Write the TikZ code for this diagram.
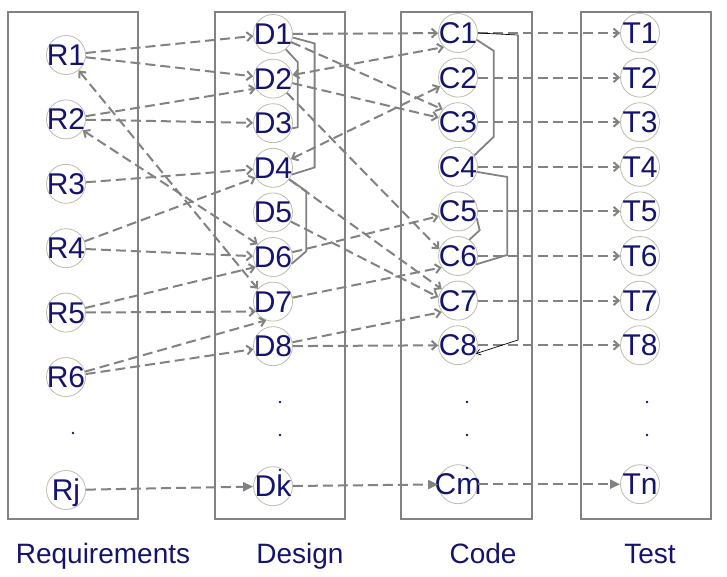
\documentclass[tikz,border=0pt]{standalone}
\usepackage{fontspec}
\setmainfont{Liberation Sans}
\usetikzlibrary{positioning, arrows.meta}
\definecolor{ink}{RGB}{20,20,110}
\definecolor{wire}{RGB}{130,130,130}
\definecolor{ring}{RGB}{190,188,172}
\tikzset{x=1pt, y=-1pt, % one unit is one pixel, counted from the top
>={Straight Barb[length=5pt,width=9pt]}, % open arrow heads
node distance=44.6pt, % spacing of the rows in design, code and test
item/.style={circle, draw=ring, line width=.8pt, fill=white, minimum size=39pt, inner sep=-7pt,
  text height=21pt, text depth=0pt, text=ink, font=\fontsize{30}{31}\selectfont},
rrow/.style={item, node distance=64.4pt}, % requirements are spread wider
trow/.style={item, node distance=182pt},
link/.style={->, wire, line width=2pt, dash pattern=on 10pt off 5pt},
both/.style={link, <->},
filledlink/.style={link, -{Triangle[length=10pt,width=9pt]}},
tie/.style={draw=wire, line width=1.8pt},
pointer/.style={draw=black, line width=.7pt, -{Straight Barb[length=4pt,width=6pt]}},
lane/.style={draw=wire, line width=2.4pt},
caption/.style={anchor=base, text=ink, font=\fontsize{28}{29}\selectfont},
}
\begin{document}
\begin{tikzpicture}
  \useasboundingbox (0,0) rectangle (727,576);
  \draw[lane] (8,12) rectangle (138,519);
  \draw[lane] (215,12) rectangle (345,519);
  \draw[lane] (401,12) rectangle (532,519);
  \draw[lane] (581,12) rectangle (711,519);

  \node[item] (r1) at (66,55) {R1};
  \node[rrow, below of=r1] (r2) {R2};
  \node[rrow, below of=r2] (r3) {R3};
  \node[rrow, below of=r3] (r4) {R4};
  \node[rrow, below of=r4] (r5) {R5};
  \node[rrow, below of=r5] (r6) {R6};
  \node[item, below of=r6, node distance=113pt] (rj) {Rj};

  \node[item] (d1) at (273,34) {D1};
  \node[item, below of=d1] (d2) {D2};
  \node[item, below of=d2] (d3) {D3};
  \node[item, below of=d3] (d4) {D4};
  \node[item, below of=d4] (d5) {D5};
  \node[item, below of=d5] (d6) {D6};
  \node[item, below of=d6] (d7) {D7};
  \node[item, below of=d7] (d8) {D8};
  \node[item, below of=d8, node distance=140pt] (dk) {Dk};

  \node[item] (c1) at (458,33) {C1};
  \node[item, below of=c1] (c2) {C2};
  \node[item, below of=c2] (c3) {C3};
  \node[item, below of=c3] (c4) {C4};
  \node[item, below of=c4] (c5) {C5};
  \node[item, below of=c5] (c6) {C6};
  \node[item, below of=c6] (c7) {C7};
  \node[item, below of=c7] (c8) {C8};
  \node[item, below of=c8, node distance=139pt] (cm) {Cm};

  \node[trow, right of=c1] (t1) {T1};
  \node[trow, right of=c2] (t2) {T2};
  \node[trow, right of=c3] (t3) {T3};
  \node[trow, right of=c4] (t4) {T4};
  \node[trow, right of=c5] (t5) {T5};
  \node[trow, right of=c6] (t6) {T6};
  \node[trow, right of=c7] (t7) {T7};
  \node[trow, right of=c8] (t8) {T8};
  \node[trow, right of=cm] (tn) {Tn};

  \foreach \x/\y in {73/433, 280/402, 280/435, 280/470, 467/402, 467/435, 467/468, 647/402, 647/435, 647/468}
    \fill[ink] (\x,\y) circle (1.4);

  \draw[link] (r1) edge (d1)
        (r1) edge (d2)
        (r2) edge (d2.210)
        (r2) edge (d3)
        (r3) edge (d4)
        (r4) edge (d4.210)
        (r4) edge (d6)
        (r5) edge (d6.210)
        (r5) edge (d7.210)
        (r6) edge (d7.250)
        (r6) edge (d8);
  \draw[both] (r1) edge (d7.140)
        (r2) edge (d6.140);

  \draw[link] (d1) edge (c1)
        (d1) edge (c3.140)
        (d2) edge (c3)
        (d2) edge (c6.160)
        (d4) edge (c7.145)
        (d5) edge (c7.170)
        (d6) edge (c5)
        (d7) edge (c6.215)
        (d8) edge (c7.215)
        (d8) edge (c8);
  \draw[both] (d2) edge (c1.225)
        (d4) edge (c2);

  \draw[link] (c1) edge (t1)
        (c2) edge (t2)
        (c3) edge (t3)
        (c4) edge (t4)
        (c5) edge (t5)
        (c6) edge (t6)
        (c7) edge (t7)
        (c8) edge (t8);

  \draw[filledlink] (rj) edge (dk)
        (dk) edge (cm)
        (cm) edge (tn);

  \draw[tie] (d1.-50) -- ++(12,13) -- ++(0,65) -- (d3.-15);
  \draw[tie] (d1.-10) -- ++(22,6) -- ++(0,124) -- (d4.-20);
  \draw[tie] (d4.-35) -- ++(17,12) -- ++(0,60) -- (d6.-20);
  \draw[tie] (c1.-20) -- ++(17,11) -- ++(0,86) -- (c4.35);
  \draw[tie] (c4.-15) -- ++(30,5) -- ++(0,78) -- (c6.-25);
  \draw[tie] (c5.-20) -- ++(3,12) -- (c6.55);
  \draw[pointer] (c1.east) -- ++(40,2) coordinate (drop top) -- ++(0,305) coordinate (drop end) -- (c8.-25);
  \draw[tie] (drop top) -- (drop end);

  \node[caption] (req) at (103,563) {Requirements};
  \node[caption] (des) at (300,563) {Design};
  \node[caption] (cod) at (483,563) {Code};
  \node[caption] (tst) at (650,563) {Test};
\end{tikzpicture}
\end{document}
